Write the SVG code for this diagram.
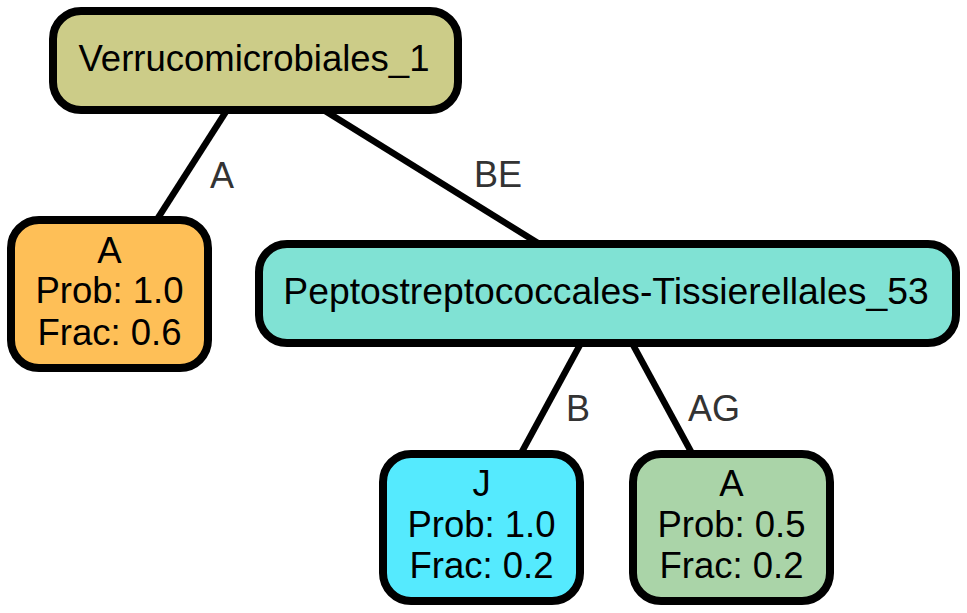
<svg xmlns="http://www.w3.org/2000/svg" width="967" height="613" viewBox="0 0 967 613">
<style>
.node rect{stroke:#000;stroke-width:8}
.node text{font-family:"Liberation Sans",Arial,sans-serif;font-size:36.5px;fill:#000;text-anchor:middle}
.node text.wide{font-size:37.3px}
.edges line{stroke:#000;stroke-width:6.5}
.edges text{font-family:"Liberation Sans",Arial,sans-serif;font-size:36px;fill:#333;text-anchor:middle}
</style>
<rect width="967" height="613" fill="#fff"/>
<g id="connectors" class="edges">
<line x1="227" y1="110" x2="155.4" y2="222"/>
<text x="222" y="188">A</text>
<line x1="323.6" y1="110" x2="539.4" y2="244"/>
<text x="498" y="187">BE</text>
<line x1="581" y1="343" x2="520.7" y2="454"/>
<text x="578" y="421">B</text>
<line x1="632" y1="343" x2="692.3" y2="454"/>
<text x="714" y="421">AG</text>
</g>
<g id="node-verrucomicrobiales" class="node">
<rect x="53" y="11" width="405" height="99" rx="28" fill="#cccc88"/>
<text x="254" y="71">Verrucomicrobiales_1</text>
</g>
<g id="node-a-left" class="node">
<rect x="11" y="220" width="197" height="148" rx="28" fill="#febf57"/>
<text x="109.5" y="263">A</text>
<text x="109.5" y="303">Prob: 1.0</text>
<text x="109.5" y="345">Frac: 0.6</text>
</g>
<g id="node-pepto" class="node">
<rect x="259" y="244" width="697" height="99" rx="28" fill="#80e2d4"/>
<text class="wide" x="606" y="304">Peptostreptococcales-Tissierellales_53</text>
</g>
<g id="node-j" class="node">
<rect x="383" y="454" width="197" height="147" rx="28" fill="#55eafe"/>
<text x="481.5" y="496">J</text>
<text x="481.5" y="537">Prob: 1.0</text>
<text x="481.5" y="578">Frac: 0.2</text>
</g>
<g id="node-a-right" class="node">
<rect x="633" y="454" width="197" height="147" rx="28" fill="#aad4a8"/>
<text x="731.5" y="496">A</text>
<text x="731.5" y="537">Prob: 0.5</text>
<text x="731.5" y="578">Frac: 0.2</text>
</g>
</svg>
